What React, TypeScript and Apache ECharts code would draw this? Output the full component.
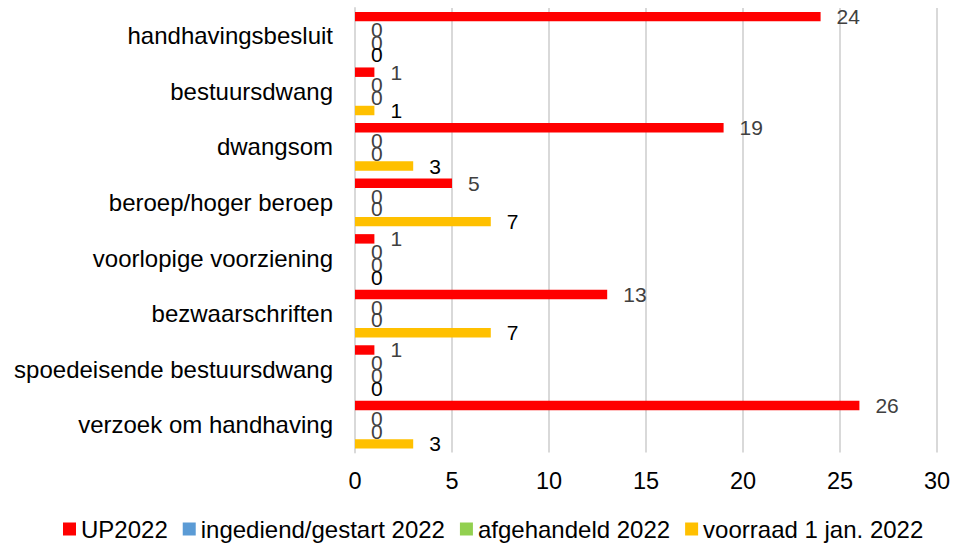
import React, { useEffect, useRef } from "react";
import * as echarts from "echarts";

const categories = [
  "handhavingsbesluit",
  "bestuursdwang",
  "dwangsom",
  "beroep/hoger beroep",
  "voorlopige voorziening",
  "bezwaarschriften",
  "spoedeisende bestuursdwang",
  "verzoek om handhaving",
];
const up2022 = [24, 1, 19, 5, 1, 13, 1, 26];
const ingediend = [0, 0, 0, 0, 0, 0, 0, 0];
const afgehandeld = [0, 0, 0, 0, 0, 0, 0, 0];
const voorraad = [0, 1, 3, 7, 0, 7, 0, 3];
const seriesNames = ["UP2022", "ingediend/gestart 2022", "afgehandeld 2022", "voorraad 1 jan. 2022"];
const seriesColors = ["#FF0000", "#5B9BD5", "#92D050", "#FFC000"];
const labelColors = ["#404040", "#404040", "#404040", "#000000"];

const FONT = "'Liberation Sans', Arial, sans-serif";

export default function App() {
  const ref = useRef<HTMLDivElement>(null);
  useEffect(() => {
    if (!ref.current) return;
    const chart = echarts.init(ref.current, undefined, { renderer: "svg" });
    const data = [up2022, ingediend, afgehandeld, voorraad];
    chart.setOption({
      animation: false,
      textStyle: { fontFamily: FONT },
      grid: { left: 355, right: 17, top: 8, bottom: 95.5, containLabel: false },
      legend: {
        top: 517,
        left: 63,
        padding: 0,
        icon: "rect",
        itemWidth: 13,
        itemHeight: 13,
        itemGap: 15,
        textStyle: { fontSize: 24, color: "#000", fontFamily: FONT },
        data: seriesNames,
      },
      xAxis: {
        type: "value",
        min: 0,
        max: 30,
        interval: 5,
        axisLine: { show: false },
        axisTick: { show: false },
        splitLine: { show: true, lineStyle: { color: "#D9D9D9", width: 2 } },
        axisLabel: { fontSize: 23.5, color: "#000", margin: 16, fontFamily: FONT },
      },
      yAxis: {
        type: "category",
        inverse: true,
        data: categories,
        axisLine: { show: true, lineStyle: { color: "#D9D9D9", width: 2 } },
        axisTick: { show: false },
        axisLabel: { fontSize: 24, color: "#000", margin: 22, fontFamily: FONT },
      },
      series: seriesNames.map((name, i) => ({
        name,
        type: "bar",
        data: data[i],
        barCategoryGap: "14%",
        barGap: "35%",
        itemStyle: { color: seriesColors[i] },
        label: {
          show: true,
          position: "right",
          distance: 16,
          fontSize: 21,
          color: labelColors[i],
          fontFamily: FONT,
        },
      })),
    });
    return () => chart.dispose();
  }, []);
  return (
    <div
      ref={ref}
      style={{ position: "absolute", left: 0, top: 0, width: 954, height: 548 }}
    />
  );
}
